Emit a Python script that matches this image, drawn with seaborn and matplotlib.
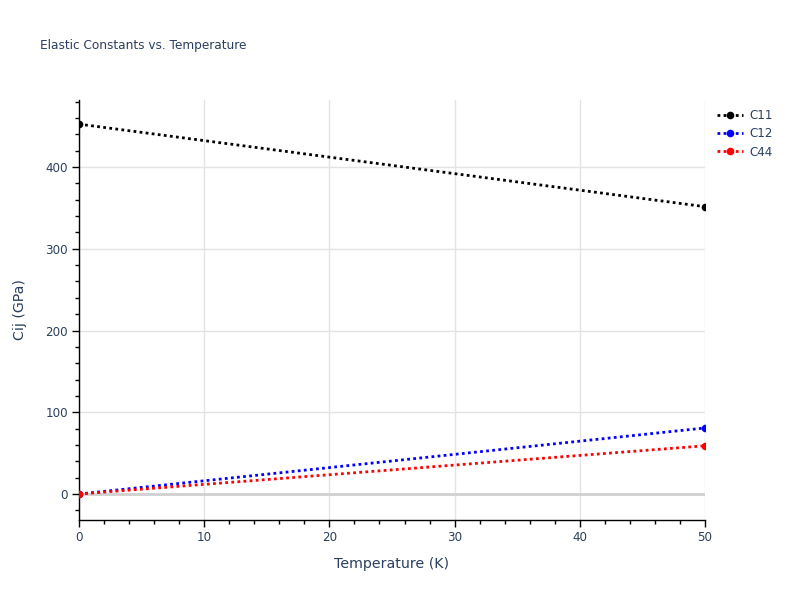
import numpy as np
import pandas as pd
import matplotlib
matplotlib.use('Agg')
import matplotlib.pyplot as plt
import seaborn as sns
from matplotlib.ticker import MultipleLocator

# values
temperature = [0, 50]
c11 = [452.5, 351.5]
c12 = [0.0, 80.8]
c44 = [0.0, 59.0]
series_names = ['C11', 'C12', 'C44']
series_colors = ['black', 'blue', 'red']

df = pd.DataFrame({
    'Temperature': temperature * 3,
    'Cij': c11 + c12 + c44,
    'series': [s for s in series_names for _ in temperature],
})

sns.set_style('white')
plt.rcParams['font.family'] = ['DejaVu Sans']
text_col = '#2a3f5f'

fig = plt.figure(figsize=(8, 6), dpi=100)
ax = fig.add_axes([79 / 800, 80 / 600, 626 / 800, 420 / 600])

sns.lineplot(data=df, x='Temperature', y='Cij', hue='series',
             palette=dict(zip(series_names, series_colors)),
             marker='o', markersize=5.5, markeredgewidth=0,
             linestyle=(0, (1, 1.2)), linewidth=2, ax=ax, zorder=3)

ax.set_xlim(0, 50)
ax.set_ylim(-31.8, 482)
ax.xaxis.set_major_locator(MultipleLocator(10))
ax.xaxis.set_minor_locator(MultipleLocator(2))
ax.yaxis.set_major_locator(MultipleLocator(100))
ax.yaxis.set_minor_locator(MultipleLocator(20))

ax.grid(True, which='major', color='#e3e3e3', linewidth=1, zorder=0)
ax.axhline(0, color='#d0d0d0', linewidth=2, zorder=1)

for side in ['top', 'right']:
    ax.spines[side].set_visible(False)
for side in ['left', 'bottom']:
    ax.spines[side].set_color('black')
    ax.spines[side].set_linewidth(1)

ax.tick_params(which='major', direction='out', length=5, width=1, color='black',
               labelsize=8.6, labelcolor=text_col, left=True, bottom=True, pad=3)
ax.tick_params(which='minor', direction='out', length=3, width=1, color='black',
               left=True, bottom=True)

ax.set_xlabel('Temperature (K)', fontsize=10.2, color=text_col, labelpad=9)
ax.set_ylabel('Cij (GPa)', fontsize=10.2, color=text_col, labelpad=13)

fig.text(40 / 800, 1 - 46 / 600, 'Elastic Constants vs. Temperature',
         fontsize=8.7, color=text_col, va='center', ha='left')

leg = ax.legend(loc='upper left', bbox_to_anchor=(712 / 800, 1 - 104 / 600),
                bbox_transform=fig.transFigure, frameon=False, fontsize=8.6,
                handlelength=2.2, handletextpad=0.5, labelspacing=0.45,
                borderaxespad=0)
for t in leg.get_texts():
    t.set_color(text_col)

fig.savefig('out.png', dpi=100)
